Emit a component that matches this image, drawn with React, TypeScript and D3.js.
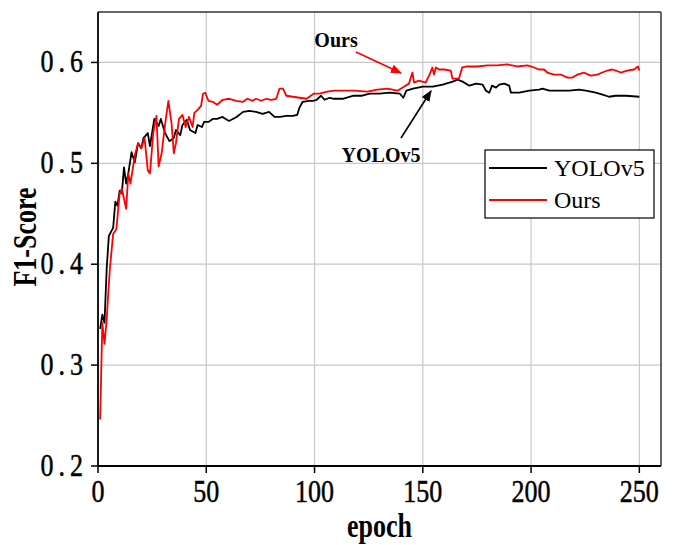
import React from 'react';
import * as d3 from 'd3';

// F1-Score per epoch
const yoloEpochs = [1, 2, 3, 4, 5, 6, 7, 8, 9, 10, 11, 12, 13, 14, 15.5, 17, 18.5, 20, 21, 23, 24, 26, 28, 29, 31, 33, 35, 36, 38, 39, 41, 42.5, 45, 46, 48, 49, 51, 53, 55, 57.5, 60.5, 64, 67, 70, 73, 76, 79, 81.5, 84, 87, 90, 92, 93, 94.5, 97.5, 99.3, 101, 103, 104.6, 107, 109, 113, 118, 122, 125.5, 130, 134.7, 139.4, 141, 142.4, 145.5, 150, 154.6, 159.2, 163.8, 166, 168.4, 171.5, 174.6, 177.6, 179.2, 180.7, 182, 183.8, 185.3, 187.6, 189.9, 190.7, 194.5, 199.2, 203.7, 205.3, 208.4, 213, 217.6, 222.2, 225.3, 229.9, 233, 236, 239, 243.7, 250];
const yoloF1 = [0.336, 0.35, 0.342, 0.395, 0.428, 0.432, 0.436, 0.462, 0.458, 0.473, 0.47, 0.496, 0.48, 0.49, 0.511, 0.501, 0.52, 0.515, 0.525, 0.53, 0.517, 0.544, 0.537, 0.544, 0.53, 0.522, 0.525, 0.533, 0.528, 0.538, 0.543, 0.533, 0.53, 0.538, 0.536, 0.541, 0.541, 0.544, 0.544, 0.546, 0.542, 0.546, 0.551, 0.552, 0.551, 0.549, 0.551, 0.546, 0.546, 0.547, 0.547, 0.548, 0.555, 0.561, 0.562, 0.562, 0.563, 0.567, 0.563, 0.565, 0.564, 0.564, 0.567, 0.567, 0.569, 0.569, 0.57, 0.569, 0.565, 0.572, 0.574, 0.576, 0.576, 0.578, 0.581, 0.583, 0.581, 0.577, 0.579, 0.578, 0.572, 0.57, 0.577, 0.575, 0.578, 0.579, 0.577, 0.57, 0.57, 0.572, 0.573, 0.574, 0.572, 0.572, 0.572, 0.573, 0.572, 0.57, 0.568, 0.566, 0.567, 0.567, 0.566];

const oursEpochs = [1, 2, 3, 4, 5, 5.5, 7, 8.5, 10, 11, 13, 14, 15, 17, 18.5, 20, 21.5, 23, 24, 25.5, 27, 28, 29.4, 31, 32.5, 34, 35, 36, 37.4, 39, 40.5, 42, 43.7, 44.5, 46, 47.6, 48.5, 49.5, 51, 53, 55, 57.6, 60.7, 63.8, 67, 69, 71.5, 73, 75.4, 77.7, 80, 82.3, 83.8, 85.4, 87, 90, 93, 96.3, 99.6, 102.4, 105.9, 109, 112, 118.3, 124.5, 129, 133.7, 138.3, 141.3, 143.6, 145.2, 146, 148.2, 151.3, 152.9, 154.4, 155.2, 156, 157.5, 159.8, 162.9, 163.7, 166.7, 168.2, 170.5, 175.2, 179.8, 184.4, 189, 193.7, 198.3, 201.4, 203.7, 206, 207.5, 210.6, 213.7, 216.8, 219.1, 221.4, 224.4, 227.5, 230.6, 232.9, 235.2, 237.5, 239.1, 241.4, 244.4, 247.5, 249.4, 250];
const oursF1 = [0.246, 0.342, 0.321, 0.345, 0.38, 0.396, 0.43, 0.435, 0.47, 0.475, 0.455, 0.49, 0.48, 0.508, 0.52, 0.515, 0.525, 0.493, 0.49, 0.53, 0.547, 0.497, 0.51, 0.539, 0.562, 0.539, 0.51, 0.52, 0.544, 0.548, 0.536, 0.546, 0.536, 0.55, 0.553, 0.557, 0.569, 0.57, 0.562, 0.561, 0.558, 0.563, 0.564, 0.562, 0.561, 0.564, 0.562, 0.564, 0.562, 0.564, 0.563, 0.564, 0.574, 0.574, 0.567, 0.566, 0.565, 0.564, 0.569, 0.569, 0.571, 0.572, 0.572, 0.572, 0.571, 0.573, 0.574, 0.572, 0.576, 0.579, 0.59, 0.58, 0.582, 0.58, 0.587, 0.595, 0.588, 0.595, 0.593, 0.593, 0.592, 0.584, 0.584, 0.595, 0.596, 0.596, 0.597, 0.597, 0.598, 0.596, 0.597, 0.595, 0.593, 0.593, 0.59, 0.588, 0.588, 0.585, 0.585, 0.588, 0.59, 0.587, 0.588, 0.59, 0.592, 0.593, 0.592, 0.59, 0.592, 0.593, 0.596, 0.592];

const xTicks = [0, 50, 100, 150, 200, 250];
const yTicks = [0.2, 0.3, 0.4, 0.5, 0.6];
const seriesNames = ['YOLOv5', 'Ours'];
const seriesColors = ['#000000', '#ff0000'];

const W = 673, H = 545;
const margin = { left: 98, right: 12, top: 12, bottom: 79 };

export default function App() {
    const x = d3.scaleLinear().domain([0, 260]).range([margin.left, W - margin.right]);
    const y = d3.scaleLinear().domain([0.2, 0.65]).range([H - margin.bottom, margin.top]);
    const line = d3.line<[number, number]>().x(d => x(d[0])).y(d => y(d[1]));

    const yolo = yoloEpochs.map((e, i) => [e, yoloF1[i]] as [number, number]);
    const ours = oursEpochs.map((e, i) => [e, oursF1[i]] as [number, number]);

    const x0 = x(0), x1 = x(260), yb = y(0.2), yt = y(0.65);
    const serif = '"Liberation Serif", "Times New Roman", serif';

    return (
        <svg width={W} height={H} style={{ position: 'absolute', left: 0, top: 0, background: '#fff' }}>
            <defs>
                <marker id="ahRed" viewBox="0 0 10 10" refX="9" refY="5" markerWidth="7" markerHeight="7" orient="auto">
                    <path d="M0,1 L10,5 L0,9 Z" fill="#ff0000" />
                </marker>
                <marker id="ahBlack" viewBox="0 0 10 10" refX="9" refY="5" markerWidth="7" markerHeight="7" orient="auto">
                    <path d="M0,1 L10,5 L0,9 Z" fill="#000" />
                </marker>
            </defs>

            {/* grid */}
            {xTicks.filter(t => t > 0).map(t => (
                <line key={'gx' + t} x1={x(t)} x2={x(t)} y1={yb} y2={yt} stroke="#c8c8c8" strokeWidth={1.2} />
            ))}
            {yTicks.filter(t => t > 0.2).map(t => (
                <line key={'gy' + t} x1={x0} x2={x1} y1={y(t)} y2={y(t)} stroke="#c8c8c8" strokeWidth={1.2} />
            ))}

            {/* data */}
            <path d={line(yolo) || ''} fill="none" stroke={seriesColors[0]} strokeWidth={1.8} strokeLinejoin="round" />
            <path d={line(ours) || ''} fill="none" stroke={seriesColors[1]} strokeWidth={1.8} strokeLinejoin="round" />

            {/* frame */}
            <line x1={x0} x2={x1} y1={yt} y2={yt} stroke="#333" strokeWidth={1.5} />
            <line x1={x1} x2={x1} y1={yt} y2={yb} stroke="#333" strokeWidth={1.5} />
            <line x1={x0} x2={x0} y1={yt} y2={yb + 1} stroke="#000" strokeWidth={1.8} />
            <line x1={x0} x2={x1} y1={yb} y2={yb} stroke="#000" strokeWidth={1.8} />

            {/* x ticks */}
            {xTicks.map(t => (
                <g key={'xt' + t}>
                    <line x1={x(t)} x2={x(t)} y1={yb} y2={yb + 7} stroke="#000" strokeWidth={1.5} />
                    <text transform={`translate(${x(t)},${yb + 36}) scale(1,1.25)`} textAnchor="middle"
                        fontFamily={serif} fontSize={26} fill="#000" stroke="#000" strokeWidth={0.4}>{t}</text>
                </g>
            ))}
            {/* y ticks */}
            {yTicks.map(t => (
                <g key={'yt' + t}>
                    <line x1={x0 - 7} x2={x0} y1={y(t)} y2={y(t)} stroke="#000" strokeWidth={1.5} />
                    <text transform={`translate(${x0 - 10},${y(t) + 10}) scale(1,1.25)`} textAnchor="end" letterSpacing={5}
                        fontFamily={serif} fontSize={26} fill="#000" stroke="#000" strokeWidth={0.4}>{t.toFixed(1)}</text>
                </g>
            ))}

            {/* axis titles */}
            <text transform={`translate(${(x0 + x1) / 2},${537}) scale(1,1.3)`} textAnchor="middle"
                fontFamily={serif} fontWeight="bold" fontSize={26}>epoch</text>
            <text transform={`translate(36,237) rotate(-90) scale(1,1.3)`} textAnchor="middle"
                fontFamily={serif} fontWeight="bold" fontSize={26}>F1-Score</text>

            {/* annotations */}
            <text x={336} y={47} textAnchor="middle" fontFamily={serif} fontWeight="bold" fontSize={20}>Ours</text>
            <line x1={356} y1={52} x2={401} y2={73} stroke="#ff0000" strokeWidth={1.6} markerEnd="url(#ahRed)" />
            <text x={381} y={162} textAnchor="middle" fontFamily={serif} fontWeight="bold" fontSize={20}>YOLOv5</text>
            <line x1={401} y1={138} x2={431} y2={91} stroke="#000" strokeWidth={1.6} markerEnd="url(#ahBlack)" />

            {/* legend */}
            <g>
                <rect x={485} y={150} width={169} height={68} fill="#fff" stroke="#000" strokeWidth={1.2} />
                {seriesNames.map((name, i) => (
                    <g key={name}>
                        <line x1={489} x2={547} y1={168 + i * 32} y2={168 + i * 32} stroke={seriesColors[i]} strokeWidth={1.8} />
                        <text x={554} y={176 + i * 32} fontFamily={serif} fontSize={24} fill="#000">{name}</text>
                    </g>
                ))}
            </g>
        </svg>
    );
}
